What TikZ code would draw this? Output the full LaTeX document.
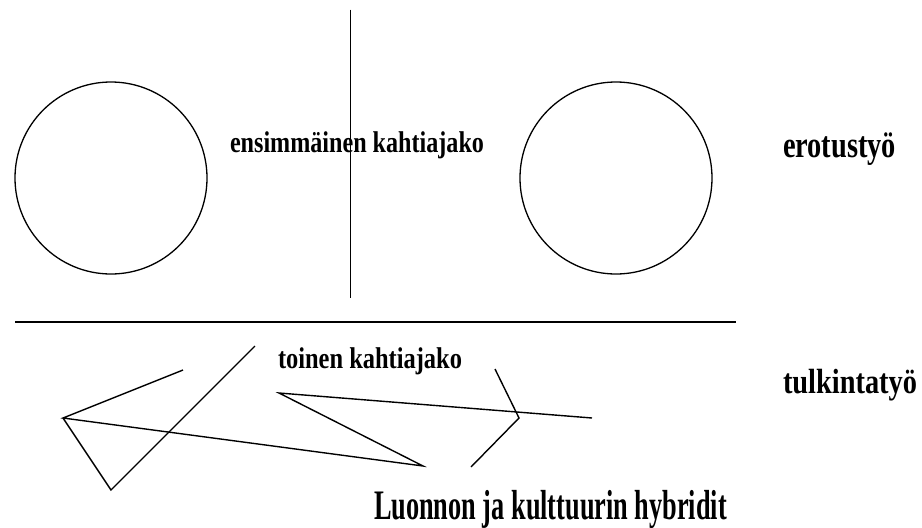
\documentclass[tikz,border=0pt]{standalone}
\usepackage{fontspec}
\setmainfont{Liberation Serif}
\newcommand{\fitw}[3]{\resizebox{#1pt}{\height}{\fontsize{#2}{#2}\selectfont\bfseries #3}}
\begin{document}
\begin{tikzpicture}[x=1pt,y=-1pt,
  stroke/.style={line width=1.4pt, black},
  lbl/.style={anchor=base west, inner sep=0pt, outer sep=0pt}]
\useasboundingbox (0,0) rectangle (922,528);
% upper half
\draw[stroke, line width=1.3pt] (111,178) circle (96);
\draw[stroke, line width=1.3pt] (616,178) circle (96);
\coordinate (vt) at (350.5,9.5);
\coordinate (vb) at (350.5,298);
\draw[stroke, line width=1.3pt] (vt) -- (vb);
\node[lbl] (t1) at (230,152) {\fitw{254}{30}{ensimmäinen kahtiajako}};
\node[lbl] (t2) at (783,157) {\fitw{113}{37}{erotustyö}};
% separator
\coordinate (hl) at (15,321.5);
\coordinate (hr) at (736,321.5);
\draw[stroke, line width=2pt] (hl) -- (hr);
% lower half
\node[lbl] (t3) at (278,368) {\fitw{184}{30}{toinen kahtiajako}};
\node[lbl] (t4) at (783,393) {\fitw{134}{35}{tulkintatyö}};
\node[lbl] (t5) at (374,519) {\fitw{353}{42}{Luonnon ja kulttuurin hybridit}};
\coordinate (a1) at (183,370);
\coordinate (a2) at (63,418);
\coordinate (a3) at (111,490);
\coordinate (a4) at (255,346);
\coordinate (b1) at (423,466);
\coordinate (b2) at (279,393);
\coordinate (b3) at (592,418);
\coordinate (c1) at (495,369);
\coordinate (c2) at (519,418);
\coordinate (c3) at (471,467);
\draw[stroke, line join=miter] (a1) -- (a2) -- (b1) -- (b2) -- (b3);
\draw[stroke] (a2) -- (a3) -- (a4);
\draw[stroke] (c1) -- (c2) -- (c3);
\end{tikzpicture}
\end{document}
